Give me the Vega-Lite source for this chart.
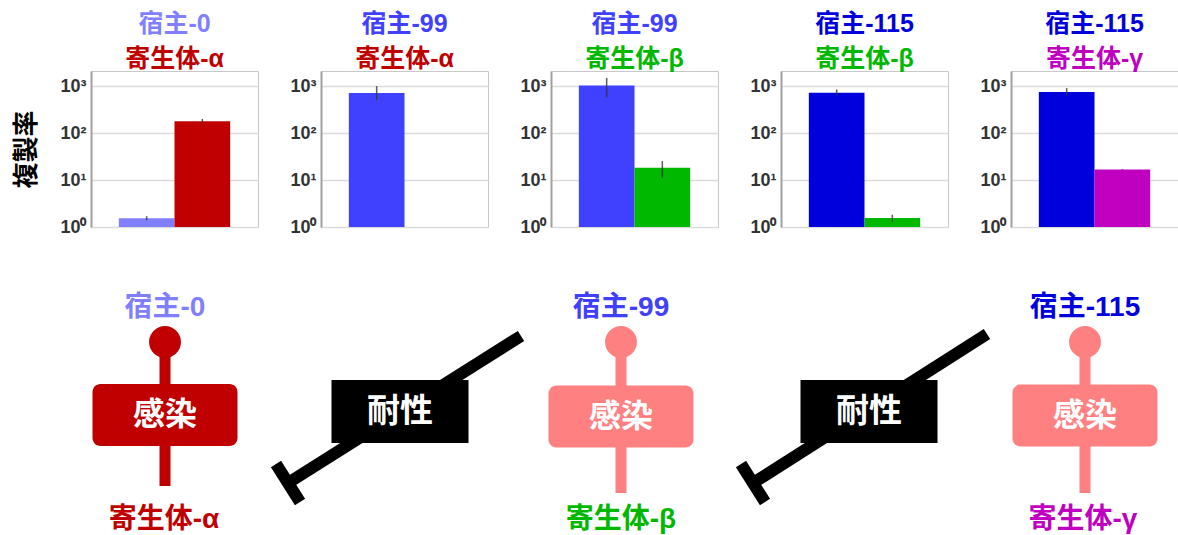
{
  "$schema": "https://vega.github.io/schema/vega-lite/v6.json",
  "background": "white",
  "padding": {"left": 13, "top": 11, "right": 0, "bottom": 0},
  "spacing": 9,
  "config": {
    "view": {"stroke": "#c8c8c8", "strokeWidth": 1},
    "font": "Liberation Sans, Noto Sans CJK JP",
    "title": {"font": "Liberation Sans, Noto Sans CJK JP", "fontSize": 25, "fontWeight": "bold", "subtitleFont": "Liberation Sans, Noto Sans CJK JP", "subtitleFontSize": 25, "subtitleFontWeight": "bold", "subtitlePadding": 10, "offset": -1, "anchor": "middle"},
    "axisY": {"ticks": false, "domainColor": "#a0a0a0", "domainWidth": 2, "gridColor": "#dcdcdc", "gridWidth": 1.5, "labelFont": "Liberation Sans", "labelFontSize": 18, "labelFontWeight": "bold", "labelColor": "#333333", "labelPadding": 5, "titleFont": "Noto Sans CJK JP", "titleFontSize": 26, "titleFontWeight": "bold", "titleColor": "#000000", "titlePadding": 20}
  },
  "datasets": {
    "bars": [
      {"panel": "1", "role": "宿主", "organism": "宿主-0", "value": 1.53, "lo": 1.4, "hi": 1.7},
      {"panel": "1", "role": "寄生体", "organism": "寄生体-α", "value": 178, "lo": 165, "hi": 200},
      {"panel": "2", "role": "宿主", "organism": "宿主-99", "value": 710, "lo": 520, "hi": 1000},
      {"panel": "3", "role": "宿主", "organism": "宿主-99", "value": 1030, "lo": 575, "hi": 1500},
      {"panel": "3", "role": "寄生体", "organism": "寄生体-β", "value": 18.3, "lo": 11.2, "hi": 25.3},
      {"panel": "4", "role": "宿主", "organism": "宿主-115", "value": 720, "lo": 640, "hi": 850},
      {"panel": "4", "role": "寄生体", "organism": "寄生体-β", "value": 1.55, "lo": 1.28, "hi": 1.83},
      {"panel": "5", "role": "宿主", "organism": "宿主-115", "value": 750, "lo": 630, "hi": 910},
      {"panel": "5", "role": "寄生体", "organism": "寄生体-γ", "value": 16.8, "lo": 16.5, "hi": 17.1}
    ],
    "labels": [
      {"x": 16.6, "y": 22.8, "label": "宿主-0"},
      {"x": 62.2, "y": 22.8, "label": "宿主-99"},
      {"x": 108.6, "y": 22.8, "label": "宿主-115"},
      {"x": 16.5, "y": 1.6, "label": "寄生体-α"},
      {"x": 62.2, "y": 1.6, "label": "寄生体-β"},
      {"x": 108.4, "y": 1.6, "label": "寄生体-γ"}
    ],
    "infections": [
      {"x": 16.6, "yTop": 19.4, "yBottom": 5.0, "yBox": 12.1, "state": "成立", "label": "感染"},
      {"x": 62.2, "yTop": 19.4, "yBottom": 4.3, "yBox": 11.95, "state": "阻止", "label": "感染"},
      {"x": 108.6, "yTop": 19.4, "yBottom": 4.3, "yBox": 12.05, "state": "阻止", "label": "感染"}
    ],
    "resistance": [
      {"x1": 52.2, "y1": 20.0, "x2": 28.9, "y2": 5.3, "tx1": 27.7, "ty1": 7.2, "tx2": 30.1, "ty2": 3.4, "bx": 40.1, "by": 12.45, "label": "耐性"},
      {"x1": 98.8, "y1": 20.2, "x2": 75.4, "y2": 5.3, "tx1": 74.2, "ty1": 7.2, "tx2": 76.6, "ty2": 3.4, "bx": 87.0, "by": 12.45, "label": "耐性"}
    ]
  },
  "vconcat": [
    {
      "hconcat": [
        {
          "width": 167, "height": 156,
          "title": {"text": "宿主-0", "subtitle": "寄生体-α", "color": "#7f7fff", "subtitleColor": "#c00000"},
          "data": {"name": "bars"},
          "transform": [{"filter": "datum.panel == '1'"}],
          "layer": [
            {"mark": {"type": "bar"}, "encoding": {
              "x": {"field": "role", "type": "nominal", "scale": {"domain": ["宿主", "寄生体"], "paddingInner": 0, "paddingOuter": 0.5}, "axis": null},
              "y": {"field": "value", "type": "quantitative", "stack": null, "title": "複製率", "scale": {"type": "log", "domain": [1, 2100], "nice": false}, "axis": {"values": [1, 10, 100, 1000], "labelExpr": "'10' + ['⁰','¹','²','³'][round(log(datum.value)/LN10)]"}},
              "y2": {"datum": 1},
              "color": {"field": "organism", "type": "nominal", "legend": null, "scale": {"domain": ["宿主-0", "宿主-99", "宿主-115", "寄生体-α", "寄生体-β", "寄生体-γ", "成立", "阻止"], "range": ["#7f7fff", "#4040ff", "#0000dd", "#c00000", "#00b800", "#c000c0", "#c00000", "#ff8080"]}}}},
            {"mark": {"type": "rule", "color": "#333333", "strokeWidth": 1.5, "opacity": 0.8}, "encoding": {
              "x": {"field": "role", "type": "nominal", "scale": {"domain": ["宿主", "寄生体"], "paddingInner": 0, "paddingOuter": 0.5}, "axis": null},
              "y": {"field": "lo", "type": "quantitative", "title": "複製率", "scale": {"type": "log", "domain": [1, 2100], "nice": false}, "axis": {"values": [1, 10, 100, 1000], "labelExpr": "'10' + ['⁰','¹','²','³'][round(log(datum.value)/LN10)]"}},
              "y2": {"field": "hi"}}}
          ]
        },
        {
          "width": 167, "height": 156,
          "title": {"text": "宿主-99", "subtitle": "寄生体-α", "color": "#4040ff", "subtitleColor": "#c00000"},
          "data": {"name": "bars"},
          "transform": [{"filter": "datum.panel == '2'"}],
          "layer": [
            {"mark": {"type": "bar"}, "encoding": {
              "x": {"field": "role", "type": "nominal", "scale": {"domain": ["宿主", "寄生体"], "paddingInner": 0, "paddingOuter": 0.5}, "axis": null},
              "y": {"field": "value", "type": "quantitative", "stack": null, "title": null, "scale": {"type": "log", "domain": [1, 2100], "nice": false}, "axis": {"values": [1, 10, 100, 1000], "labelExpr": "'10' + ['⁰','¹','²','³'][round(log(datum.value)/LN10)]"}},
              "y2": {"datum": 1},
              "color": {"field": "organism", "type": "nominal", "legend": null, "scale": {"domain": ["宿主-0", "宿主-99", "宿主-115", "寄生体-α", "寄生体-β", "寄生体-γ", "成立", "阻止"], "range": ["#7f7fff", "#4040ff", "#0000dd", "#c00000", "#00b800", "#c000c0", "#c00000", "#ff8080"]}}}},
            {"mark": {"type": "rule", "color": "#333333", "strokeWidth": 1.5, "opacity": 0.8}, "encoding": {
              "x": {"field": "role", "type": "nominal", "scale": {"domain": ["宿主", "寄生体"], "paddingInner": 0, "paddingOuter": 0.5}, "axis": null},
              "y": {"field": "lo", "type": "quantitative", "title": null, "scale": {"type": "log", "domain": [1, 2100], "nice": false}, "axis": {"values": [1, 10, 100, 1000], "labelExpr": "'10' + ['⁰','¹','²','³'][round(log(datum.value)/LN10)]"}},
              "y2": {"field": "hi"}}}
          ]
        },
        {
          "width": 167, "height": 156,
          "title": {"text": "宿主-99", "subtitle": "寄生体-β", "color": "#4040ff", "subtitleColor": "#00b800"},
          "data": {"name": "bars"},
          "transform": [{"filter": "datum.panel == '3'"}],
          "layer": [
            {"mark": {"type": "bar"}, "encoding": {
              "x": {"field": "role", "type": "nominal", "scale": {"domain": ["宿主", "寄生体"], "paddingInner": 0, "paddingOuter": 0.5}, "axis": null},
              "y": {"field": "value", "type": "quantitative", "stack": null, "title": null, "scale": {"type": "log", "domain": [1, 2100], "nice": false}, "axis": {"values": [1, 10, 100, 1000], "labelExpr": "'10' + ['⁰','¹','²','³'][round(log(datum.value)/LN10)]"}},
              "y2": {"datum": 1},
              "color": {"field": "organism", "type": "nominal", "legend": null, "scale": {"domain": ["宿主-0", "宿主-99", "宿主-115", "寄生体-α", "寄生体-β", "寄生体-γ", "成立", "阻止"], "range": ["#7f7fff", "#4040ff", "#0000dd", "#c00000", "#00b800", "#c000c0", "#c00000", "#ff8080"]}}}},
            {"mark": {"type": "rule", "color": "#333333", "strokeWidth": 1.5, "opacity": 0.8}, "encoding": {
              "x": {"field": "role", "type": "nominal", "scale": {"domain": ["宿主", "寄生体"], "paddingInner": 0, "paddingOuter": 0.5}, "axis": null},
              "y": {"field": "lo", "type": "quantitative", "title": null, "scale": {"type": "log", "domain": [1, 2100], "nice": false}, "axis": {"values": [1, 10, 100, 1000], "labelExpr": "'10' + ['⁰','¹','²','³'][round(log(datum.value)/LN10)]"}},
              "y2": {"field": "hi"}}}
          ]
        },
        {
          "width": 167, "height": 156,
          "title": {"text": "宿主-115", "subtitle": "寄生体-β", "color": "#0000dd", "subtitleColor": "#00b800"},
          "data": {"name": "bars"},
          "transform": [{"filter": "datum.panel == '4'"}],
          "layer": [
            {"mark": {"type": "bar"}, "encoding": {
              "x": {"field": "role", "type": "nominal", "scale": {"domain": ["宿主", "寄生体"], "paddingInner": 0, "paddingOuter": 0.5}, "axis": null},
              "y": {"field": "value", "type": "quantitative", "stack": null, "title": null, "scale": {"type": "log", "domain": [1, 2100], "nice": false}, "axis": {"values": [1, 10, 100, 1000], "labelExpr": "'10' + ['⁰','¹','²','³'][round(log(datum.value)/LN10)]"}},
              "y2": {"datum": 1},
              "color": {"field": "organism", "type": "nominal", "legend": null, "scale": {"domain": ["宿主-0", "宿主-99", "宿主-115", "寄生体-α", "寄生体-β", "寄生体-γ", "成立", "阻止"], "range": ["#7f7fff", "#4040ff", "#0000dd", "#c00000", "#00b800", "#c000c0", "#c00000", "#ff8080"]}}}},
            {"mark": {"type": "rule", "color": "#333333", "strokeWidth": 1.5, "opacity": 0.8}, "encoding": {
              "x": {"field": "role", "type": "nominal", "scale": {"domain": ["宿主", "寄生体"], "paddingInner": 0, "paddingOuter": 0.5}, "axis": null},
              "y": {"field": "lo", "type": "quantitative", "title": null, "scale": {"type": "log", "domain": [1, 2100], "nice": false}, "axis": {"values": [1, 10, 100, 1000], "labelExpr": "'10' + ['⁰','¹','²','³'][round(log(datum.value)/LN10)]"}},
              "y2": {"field": "hi"}}}
          ]
        },
        {
          "width": 167, "height": 156,
          "title": {"text": "宿主-115", "subtitle": "寄生体-γ", "color": "#0000dd", "subtitleColor": "#c000c0"},
          "data": {"name": "bars"},
          "transform": [{"filter": "datum.panel == '5'"}],
          "layer": [
            {"mark": {"type": "bar"}, "encoding": {
              "x": {"field": "role", "type": "nominal", "scale": {"domain": ["宿主", "寄生体"], "paddingInner": 0, "paddingOuter": 0.5}, "axis": null},
              "y": {"field": "value", "type": "quantitative", "stack": null, "title": null, "scale": {"type": "log", "domain": [1, 2100], "nice": false}, "axis": {"values": [1, 10, 100, 1000], "labelExpr": "'10' + ['⁰','¹','²','³'][round(log(datum.value)/LN10)]"}},
              "y2": {"datum": 1},
              "color": {"field": "organism", "type": "nominal", "legend": null, "scale": {"domain": ["宿主-0", "宿主-99", "宿主-115", "寄生体-α", "寄生体-β", "寄生体-γ", "成立", "阻止"], "range": ["#7f7fff", "#4040ff", "#0000dd", "#c00000", "#00b800", "#c000c0", "#c00000", "#ff8080"]}}}},
            {"mark": {"type": "rule", "color": "#333333", "strokeWidth": 1.5, "opacity": 0.8}, "encoding": {
              "x": {"field": "role", "type": "nominal", "scale": {"domain": ["宿主", "寄生体"], "paddingInner": 0, "paddingOuter": 0.5}, "axis": null},
              "y": {"field": "lo", "type": "quantitative", "title": null, "scale": {"type": "log", "domain": [1, 2100], "nice": false}, "axis": {"values": [1, 10, 100, 1000], "labelExpr": "'10' + ['⁰','¹','²','³'][round(log(datum.value)/LN10)]"}},
              "y2": {"field": "hi"}}}
          ]
        }
      ],
      "spacing": 63,
      "bounds": "flush"
    },
    {
      "width": 1086, "height": 290,
      "view": {"stroke": null},
      "layer": [
        {"data": {"name": "infections"}, "mark": {"type": "rule", "strokeWidth": 11}, "encoding": {
          "x": {"field": "x", "type": "quantitative", "scale": {"domain": [9.2, 117.8], "nice": false, "zero": false}, "axis": null},
          "y": {"field": "yTop", "type": "quantitative", "scale": {"domain": [0, 29], "nice": false, "zero": false}, "axis": null},
          "y2": {"field": "yBottom"},
          "color": {"field": "state", "type": "nominal", "legend": null, "scale": {"domain": ["宿主-0", "宿主-99", "宿主-115", "寄生体-α", "寄生体-β", "寄生体-γ", "成立", "阻止"], "range": ["#7f7fff", "#4040ff", "#0000dd", "#c00000", "#00b800", "#c000c0", "#c00000", "#ff8080"]}}}},
        {"data": {"name": "infections"}, "mark": {"type": "point", "shape": "circle", "filled": true, "opacity": 1, "size": 1018}, "encoding": {
          "x": {"field": "x", "type": "quantitative"},
          "y": {"field": "yTop", "type": "quantitative"},
          "color": {"field": "state", "type": "nominal", "legend": null, "scale": {"domain": ["宿主-0", "宿主-99", "宿主-115", "寄生体-α", "寄生体-β", "寄生体-γ", "成立", "阻止"], "range": ["#7f7fff", "#4040ff", "#0000dd", "#c00000", "#00b800", "#c000c0", "#c00000", "#ff8080"]}}}},
        {"data": {"name": "infections"}, "mark": {"type": "rect", "width": 145, "height": 62, "cornerRadius": 8}, "encoding": {
          "x": {"field": "x", "type": "quantitative"},
          "y": {"field": "yBox", "type": "quantitative"},
          "color": {"field": "state", "type": "nominal", "legend": null, "scale": {"domain": ["宿主-0", "宿主-99", "宿主-115", "寄生体-α", "寄生体-β", "寄生体-γ", "成立", "阻止"], "range": ["#7f7fff", "#4040ff", "#0000dd", "#c00000", "#00b800", "#c000c0", "#c00000", "#ff8080"]}}}},
        {"data": {"name": "infections"}, "mark": {"type": "text", "color": "white", "fontSize": 32, "fontWeight": "bold", "font": "Noto Sans CJK JP", "baseline": "middle", "align": "center"}, "encoding": {
          "x": {"field": "x", "type": "quantitative"},
          "y": {"field": "yBox", "type": "quantitative"},
          "text": {"field": "label"}}},
        {"data": {"name": "resistance"}, "mark": {"type": "rule", "strokeWidth": 12, "color": "black", "strokeCap": "butt"}, "encoding": {
          "x": {"field": "x1", "type": "quantitative"},
          "y": {"field": "y1", "type": "quantitative"},
          "x2": {"field": "x2"},
          "y2": {"field": "y2"}}},
        {"data": {"name": "resistance"}, "mark": {"type": "rule", "strokeWidth": 12, "color": "black", "strokeCap": "butt"}, "encoding": {
          "x": {"field": "tx1", "type": "quantitative"},
          "y": {"field": "ty1", "type": "quantitative"},
          "x2": {"field": "tx2"},
          "y2": {"field": "ty2"}}},
        {"data": {"name": "resistance"}, "mark": {"type": "rect", "width": 137, "height": 63, "color": "black"}, "encoding": {
          "x": {"field": "bx", "type": "quantitative"},
          "y": {"field": "by", "type": "quantitative"}}},
        {"data": {"name": "resistance"}, "mark": {"type": "text", "color": "white", "fontSize": 33, "fontWeight": "bold", "font": "Noto Sans CJK JP", "baseline": "middle", "align": "center"}, "encoding": {
          "x": {"field": "bx", "type": "quantitative"},
          "y": {"field": "by", "type": "quantitative"},
          "text": {"field": "label"}}},
        {"data": {"name": "labels"}, "mark": {"type": "text", "fontSize": 28, "fontWeight": "bold", "font": "Liberation Sans, Noto Sans CJK JP", "baseline": "middle", "align": "center"}, "encoding": {
          "x": {"field": "x", "type": "quantitative"},
          "y": {"field": "y", "type": "quantitative"},
          "text": {"field": "label"},
          "color": {"field": "label", "type": "nominal", "legend": null, "scale": {"domain": ["宿主-0", "宿主-99", "宿主-115", "寄生体-α", "寄生体-β", "寄生体-γ", "成立", "阻止"], "range": ["#7f7fff", "#4040ff", "#0000dd", "#c00000", "#00b800", "#c000c0", "#c00000", "#ff8080"]}}}}
      ]
    }
  ]
}
